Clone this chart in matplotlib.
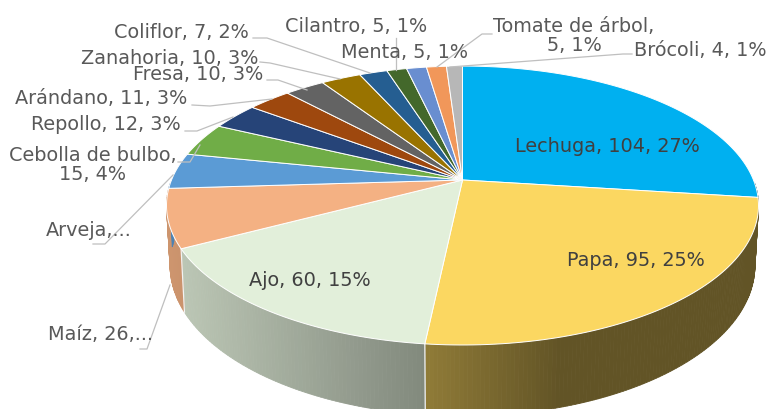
import numpy as np
import matplotlib
matplotlib.use("Agg")
import matplotlib.pyplot as plt
from matplotlib.patches import Polygon

categories = ["Lechuga", "Papa", "Ajo", "Maíz", "Arveja", "Cebolla de bulbo", "Repollo", "Arándano",
              "Fresa", "Zanahoria", "Coliflor", "Cilantro", "Menta", "Tomate de árbol", "Brócoli"]
values = [104, 95, 60, 26, 16, 15, 12, 11, 10, 10, 7, 5, 5, 5, 4]
percents = [27, 25, 15, 7, 4, 4, 3, 3, 3, 3, 2, 1, 1, 1, 1]
colors = ["#00b0f0", "#fbd761", "#e2efda", "#f4b183", "#5b9bd5", "#70ad47", "#264478", "#9e480e",
          "#636363", "#997300", "#255e91", "#43682b", "#698ed0", "#f1975a", "#b7b7b7"]
label_text = ["Lechuga, 104, 27%", "Papa, 95, 25%", "Ajo, 60, 15%", "Maíz, 26,...", "Arveja,...",
              "Cebolla de bulbo,\n15, 4%", "Repollo, 12, 3%", "Arándano, 11, 3%", "Fresa, 10, 3%",
              "Zanahoria, 10, 3%", "Coliflor, 7, 2%", "Cilantro, 5, 1%", "Menta, 5, 1%",
              "Tomate de árbol,\n5, 1%", "Brócoli, 4, 1%"]

# layout
label_pos = [(607, 146), (636, 261), (310, 281), (101, 335), (89, 230), (93, 165), (106, 124), (101, 99),
             (198, 75), (170, 59), (181, 32), (356, 27), (405, 52), (574, 36), (700, 50)]
leaders = [None, None, None,
           [(140, 349), (147, 349), (170, 285)],
           [(93, 244), (105, 244), (173, 175)],
           [(178, 162), (190, 162), (200, 145)],
           [(185, 131), (197, 131), (233, 117)],
           [(192, 105), (210, 106), (272, 99)],
           [(267, 80), (278, 80), (307, 90)],
           [(260, 62), (270, 63), (340, 79)],
           [(253, 38), (267, 38), (370, 73)],
           [(396, 38), (396, 70)],
           None,
           [(492, 34), (482, 34), (437, 67)],
           [(632, 54), (623, 54), (450, 67)]]
CX, CY, A, B, K, DEPTH = 462.5, 180.0, 291.0, 134.8, 0.183, 58.0


def project(theta, r=1.0, z=0.0):
    u, v = r * np.sin(theta), r * np.cos(theta)
    w = 1 + K * v
    shrink = 1 - 0.012 * (z / DEPTH)
    return CX + A * shrink * u / w, CY - B * v / w + z / w


def shade(x):
    return np.interp(x, [170, 428, 560, 770], [0.84, 0.57, 0.39, 0.39])


fig = plt.figure(figsize=(7.7, 4.09), dpi=100, facecolor="white")
ax = fig.add_axes([0, 0, 1, 1])
ax.set_xlim(0, 770)
ax.set_ylim(409, 0)
ax.axis("off")

edges = 2 * np.pi * np.concatenate([[0], np.cumsum(values)]) / np.sum(values)

# side wall, only the part facing the viewer
for i, col in enumerate(colors):
    base = np.array(matplotlib.colors.to_rgb(col))
    n = max(2, int((edges[i + 1] - edges[i]) / 0.012))
    th = np.linspace(edges[i], edges[i + 1], n)
    for t0, t1 in zip(th[:-1], th[1:]):
        if np.cos((t0 + t1) / 2) > -0.02:
            continue
        x0, y0 = project(t0)
        x1, y1 = project(t1)
        x2, y2 = project(t1, z=DEPTH)
        x3, y3 = project(t0, z=DEPTH)
        c = base * shade((x0 + x1) / 2)
        ax.add_patch(Polygon([(x0, y0), (x1, y1), (x2, y2), (x3, y3)], closed=True,
                             facecolor=c, edgecolor=c, lw=0.6, zorder=1))
    if np.cos(edges[i]) < -0.3:
        x0, y0 = project(edges[i])
        x1, y1 = project(edges[i], z=DEPTH)
        ax.plot([x0, x1], [y0, y1], color="#f2f2f2", lw=0.9, zorder=2)

# top face
for i, col in enumerate(colors):
    th = np.linspace(edges[i], edges[i + 1], 80)
    xs, ys = project(th)
    pts = [(CX, CY)] + list(zip(xs, ys))
    ax.add_patch(Polygon(pts, closed=True, facecolor=col, edgecolor="white", lw=0.7,
                         joinstyle="round", zorder=3))

for seg in leaders:
    if seg is not None:
        ax.plot(*zip(*seg), color="#bfbfbf", lw=0.9, zorder=4, solid_joinstyle="round")

for i, (txt, (x, y)) in enumerate(zip(label_text, label_pos)):
    on_pie = i < 3
    ax.text(x, y, txt, ha="center", va="center", fontsize=13.9, linespacing=1.05,
            color="#404040" if on_pie else "#595959", family="DejaVu Sans", zorder=5)

fig.savefig("out.png", dpi=100, facecolor="white")
